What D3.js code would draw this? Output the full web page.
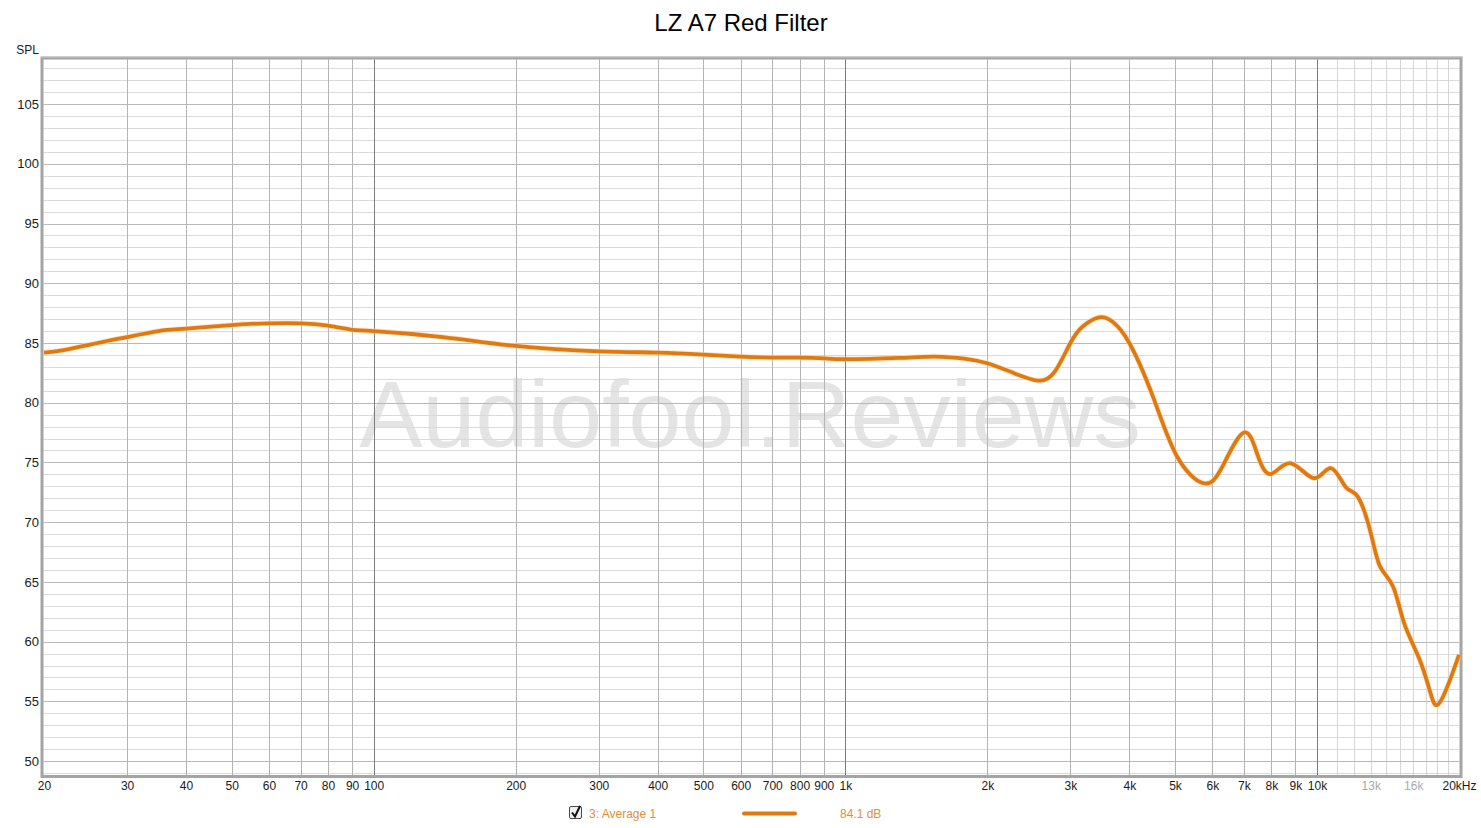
<!DOCTYPE html>
<html>
<head>
<meta charset="utf-8">
<script src="https://cdn.jsdelivr.net/npm/d3@7"></script>
<style>
  html, body { margin: 0; padding: 0; background: #fff; }
  svg { display: block; font-family: "Liberation Sans", Arial, sans-serif; }
</style>
</head>
<body>
<svg id="chart" width="1481" height="828"></svg>
<script>
// ---- data ----
const title = "LZ A7 Red Filter";
const freqs = [20, 22, 26, 30, 35, 40, 50, 60, 70, 80, 90, 100, 140, 200, 300, 400, 500, 600, 700, 800, 900, 1000,
  1300, 1550, 1800, 2000, 2270, 2560, 2780, 3000, 3190, 3450, 3680, 4000, 4500, 5050, 5750, 6300, 7000, 7500, 8000,
  8800, 9850, 10700, 11500, 12200, 13000, 13600, 14500, 15300, 16500, 17400, 18000, 18900, 20000];
const spl = [84.2, 84.4, 85.0, 85.5, 86.0, 86.2, 86.5, 86.65, 86.65, 86.45, 86.1, 86.0, 85.5, 84.75, 84.3, 84.2, 84.03, 83.86, 83.78, 83.78, 83.72, 83.64,
  83.75, 83.86, 83.67, 83.3, 82.5, 81.85, 82.6, 85.0, 86.4, 87.15, 86.8, 85.0, 80.4, 75.5, 73.26, 74.65, 77.5, 75.5, 74.04,
  74.93, 73.68, 74.52, 72.95, 72.14, 69.1, 66.3, 64.6, 61.55, 58.5, 55.7, 54.7, 56.24, 58.9];
const xTickValues = [20, 30, 40, 50, 60, 70, 80, 90, 100, 200, 300, 400, 500, 600, 700, 800, 900, 1000,
  2000, 3000, 4000, 5000, 6000, 7000, 8000, 9000, 10000, 13000, 16000, 20000];
const xTickLabels = ["20", "30", "40", "50", "60", "70", "80", "90", "100", "200", "300", "400", "500", "600", "700", "800", "900", "1k",
  "2k", "3k", "4k", "5k", "6k", "7k", "8k", "9k", "10k", "13k", "16k", "20kHz"];
const greyTicks = [13000, 16000];
const yTickValues = [50, 55, 60, 65, 70, 75, 80, 85, 90, 95, 100, 105];
const majorFreqs = [100, 1000, 10000];
const minorFreqs = [30, 40, 50, 60, 70, 80, 90, 200, 300, 400, 500, 600, 700, 800, 900,
  2000, 3000, 4000, 5000, 6000, 7000, 8000, 9000];
const hfFreqs = [11000, 12000, 13000, 14000, 15000, 16000, 17000, 18000, 19000];
const legendName = "3: Average 1";
const legendValue = "84.1 dB";
const yLabel = "SPL";
const watermark = "Audiofool.Reviews";

// ---- layout ----
const svg = d3.select("#chart");
const L = 43.5, R = 1459.5, T = 59.3, B = 776;
const x = d3.scaleLog().domain([20, 20000]).range([44, 1459]);
const y = d3.scaleLinear().domain([48.75, 108.75]).range([776, 59.3]);

// title
svg.append("text").attr("x", 741).attr("y", 31).attr("text-anchor", "middle")
  .attr("font-size", 24).attr("fill", "#000").text(title);

// plot background
svg.append("rect").attr("x", L).attr("y", T).attr("width", R - L).attr("height", B - T).attr("fill", "#fff");

// watermark
svg.append("text").attr("x", 750).attr("y", 447).attr("text-anchor", "middle")
  .attr("font-size", 95).attr("fill", "#e4e4e4").text(watermark);

const grid = svg.append("g");
const minorDb = d3.range(49, 109).filter(d => d % 5 !== 0);
grid.selectAll("line.hm").data(minorDb).join("line")
  .attr("x1", L).attr("x2", R).attr("y1", d => Math.round(y(d)) + 0.5).attr("y2", d => Math.round(y(d)) + 0.5)
  .attr("stroke", "#dadada").attr("stroke-width", 1);
grid.selectAll("line.vh").data(hfFreqs).join("line")
  .attr("x1", d => Math.round(x(d)) + 0.5).attr("x2", d => Math.round(x(d)) + 0.5).attr("y1", T).attr("y2", B)
  .attr("stroke", "#d6d6d6").attr("stroke-width", 1);
const majorDb = d3.range(50, 109, 5);
grid.selectAll("line.hM").data(majorDb).join("line")
  .attr("x1", L).attr("x2", R).attr("y1", d => Math.round(y(d)) + 0.5).attr("y2", d => Math.round(y(d)) + 0.5)
  .attr("stroke", "#b9b9b9").attr("stroke-width", 1);
grid.selectAll("line.vm").data(minorFreqs).join("line")
  .attr("x1", d => Math.round(x(d)) + 0.5).attr("x2", d => Math.round(x(d)) + 0.5).attr("y1", T).attr("y2", B)
  .attr("stroke", "#b4b4b4").attr("stroke-width", 1);
grid.selectAll("line.vM").data(majorFreqs).join("line")
  .attr("x1", d => Math.round(x(d)) + 0.5).attr("x2", d => Math.round(x(d)) + 0.5).attr("y1", T).attr("y2", B)
  .attr("stroke", "#7c7c7c").attr("stroke-width", 1);

// frame
svg.append("rect").attr("x", 42).attr("y", 58).attr("width", 1419).attr("height", 718.5)
  .attr("fill", "none").attr("stroke", "#a4a4a4").attr("stroke-width", 3);
svg.append("line").attr("x1", 41).attr("x2", 1463).attr("y1", 57).attr("y2", 57).attr("stroke", "#c8c8c8").attr("stroke-width", 1);

// curve
const line = d3.line().x((d, i) => x(freqs[i])).y(d => y(d)).curve(d3.curveNatural);
svg.append("path").datum(spl).attr("d", line).attr("fill", "none")
  .attr("stroke", "#fbd6a8").attr("stroke-width", 5.5).attr("stroke-linejoin", "round").attr("opacity", 0.6);
svg.append("path").datum(spl).attr("d", line).attr("fill", "none")
  .attr("stroke", "#e07a10").attr("stroke-width", 3.8).attr("stroke-linejoin", "round");

// x axis
const xAxis = d3.axisBottom(x).tickValues(xTickValues).tickSize(0).tickPadding(0)
  .tickFormat((d, i) => xTickLabels[i]);
const gx = svg.append("g").attr("transform", "translate(0,781)").call(xAxis);
gx.select(".domain").remove();
gx.selectAll("text").attr("font-size", 12).attr("font-family", "Liberation Sans, Arial, sans-serif")
  .attr("dy", "0.71em")
  .attr("fill", d => greyTicks.includes(d) ? "#aaaaaa" : "#1a1a1a");

// y axis
const yAxis = d3.axisLeft(y).tickValues(yTickValues).tickSize(0).tickPadding(0);
const gy = svg.append("g").attr("transform", "translate(39,0)").call(yAxis);
gy.select(".domain").remove();
gy.selectAll("text").attr("font-size", 13).attr("font-family", "Liberation Sans, Arial, sans-serif").attr("fill", "#1a1a1a");
svg.append("text").attr("x", 39).attr("y", 54).attr("text-anchor", "end").attr("font-size", 12)
  .attr("fill", "#1a1a1a").text(yLabel);

// legend
const lg = svg.append("g");
lg.append("rect").attr("x", 569.5).attr("y", 806.5).attr("width", 12).attr("height", 12).attr("rx", 1.5)
  .attr("fill", "#f0f0f0").attr("stroke", "#4a4a4a").attr("stroke-width", 1);
lg.append("path").attr("d", "M572,812.5 L575,816.5 L580,806").attr("fill", "none")
  .attr("stroke", "#111").attr("stroke-width", 2);
lg.append("text").attr("x", 589).attr("y", 818).attr("font-size", 12).attr("fill", "#dd8f3a").text(legendName);
lg.append("line").attr("x1", 744).attr("x2", 795).attr("y1", 813.5).attr("y2", 813.5)
  .attr("stroke", "#e07a10").attr("stroke-width", 4).attr("stroke-linecap", "round");
lg.append("text").attr("x", 840).attr("y", 818).attr("font-size", 12).attr("fill", "#dd8f3a").text(legendValue);
</script>
</body>
</html>
